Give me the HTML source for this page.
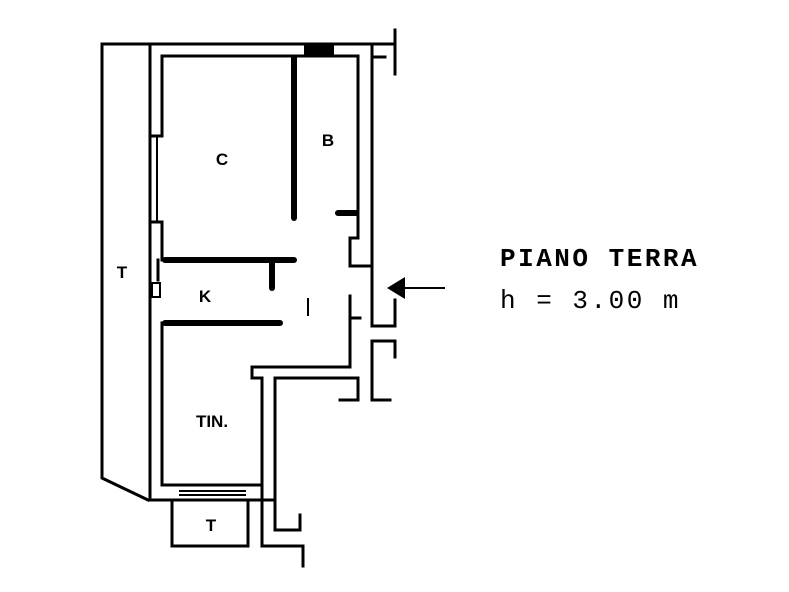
<!DOCTYPE html>
<html><head><style>
html,body{margin:0;padding:0;background:#fff;}
svg{display:block;}
text{font-family:"Liberation Sans",sans-serif;font-weight:bold;fill:#000;}
</style></head><body>
<svg width="789" height="592" viewBox="0 0 789 592" xmlns="http://www.w3.org/2000/svg">
<g stroke="#000" fill="none" stroke-width="3" stroke-linecap="square">
<polyline points="148,44 102,44 102,478 148,500"/>
<line x1="148" y1="44" x2="395" y2="44"/>
<line x1="395" y1="30" x2="395" y2="74"/>
<line x1="150" y1="44" x2="150" y2="500"/>
<line x1="162" y1="56" x2="162" y2="136"/>
<line x1="162" y1="222" x2="162" y2="260"/>
<line x1="157" y1="136" x2="157" y2="222" stroke-width="2"/>
<line x1="150" y1="136" x2="162" y2="136"/>
<line x1="150" y1="222" x2="162" y2="222"/>
<line x1="158" y1="260" x2="158" y2="280"/>
<rect x="152" y="283" width="8" height="14" stroke-width="2"/>
<line x1="162" y1="56" x2="358" y2="56"/>
<line x1="358" y1="56" x2="358" y2="238"/>
<polyline points="358,238 350,238 350,266 372,266"/>
<line x1="372" y1="57" x2="372" y2="326"/>
<polyline points="372,326 395,326"/>
<line x1="395" y1="300" x2="395" y2="326"/>
<line x1="372" y1="44" x2="372" y2="57"/>
<line x1="372" y1="57" x2="385" y2="57"/>
<polyline points="350,296 350,318 350,367 252,367 252,378 262,378 262,485"/>
<polyline points="358,400 358,378 275,378 275,530 300,530 300,515"/>
<line x1="340" y1="400" x2="358" y2="400"/>
<polyline points="390,400 372,400 372,341 395,341 395,357"/>
<line x1="360" y1="318" x2="350" y2="318"/>
<line x1="162" y1="323" x2="162" y2="485"/>
<line x1="162" y1="485" x2="262" y2="485"/>
<line x1="150" y1="500" x2="275" y2="500"/>
<line x1="180" y1="491" x2="245" y2="491" stroke-width="2"/>
<line x1="180" y1="495" x2="245" y2="495" stroke-width="2"/>
<rect x="172" y="500" width="76" height="46"/>
<polyline points="262,485 262,546 303,546 303,566"/>
</g>
<g stroke="#000" fill="none" stroke-width="6" stroke-linecap="round">
<line x1="294" y1="58" x2="294" y2="218"/>
<line x1="338" y1="213" x2="356" y2="213"/>
<line x1="165" y1="260" x2="294" y2="260"/>
<line x1="272" y1="262" x2="272" y2="288"/>
<line x1="165" y1="323" x2="280" y2="323"/>
<line x1="304" y1="50" x2="334" y2="50" stroke-width="10" stroke-linecap="butt"/>
</g>
<line x1="308" y1="298" x2="308" y2="316" stroke="#000" stroke-width="2"/>
<line x1="398" y1="288" x2="445" y2="288" stroke="#000" stroke-width="2"/>
<polygon points="387,288 405,277 405,299" fill="#000"/>
<text x="222" y="165" font-size="17" text-anchor="middle">C</text>
<text x="328" y="146" font-size="17" text-anchor="middle">B</text>
<text x="122" y="278" font-size="17" text-anchor="middle">T</text>
<text x="205" y="302" font-size="17" text-anchor="middle">K</text>
<text x="212" y="427" font-size="17" text-anchor="middle">TIN.</text>
<text x="211" y="531" font-size="17" text-anchor="middle">T</text>
<text x="500" y="266" font-size="26" letter-spacing="2.5" style="font-family:'Liberation Mono',monospace;font-weight:bold">PIANO TERRA</text>
<text x="500" y="308" font-size="26" letter-spacing="2.5" style="font-family:'Liberation Mono',monospace;font-weight:normal">h = 3.00 m</text>
</svg>
</body></html>
